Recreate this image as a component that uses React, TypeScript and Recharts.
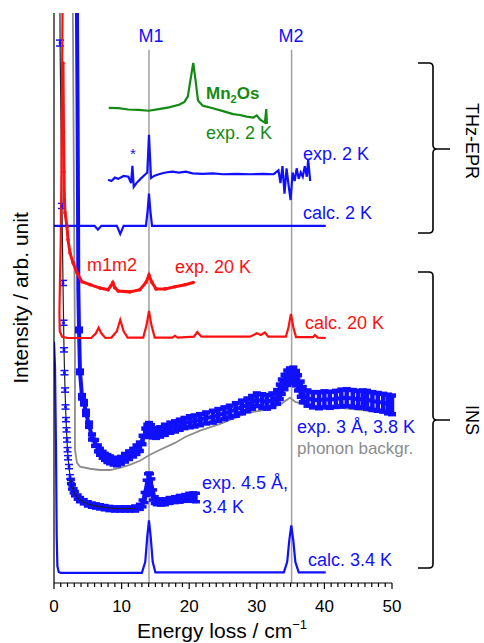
import React from "react";
import { LineChart, Line, XAxis, YAxis, ErrorBar, ReferenceLine } from "recharts";

// readings from the figure: [energy / cm-1, offset intensity (arb.), error]
const calc34K = [
  [0, 5.6], [0.15, 5.0], [0.3, 3.0], [0.4, 1.0], [0.5, 0.3], [0.7, 0.16], [1, 0.14],
  [13, 0.14], [13.5, 0.4], [13.8, 1.0], [14.05, 1.38], [14.3, 1.0], [14.6, 0.4], [15, 0.15],
  [24, 0.15], [34, 0.15], [34.5, 0.4], [34.8, 0.9], [35.1, 1.26], [35.4, 0.9], [35.7, 0.4],
  [36.2, 0.15], [40.2, 0.15],
];

const exp45Fit = [
  [0.85, 14.5], [0.9, 12.66], [1.05, 10.5], [1.18, 8.81], [1.33, 6.99], [1.48, 5.41],
  [1.63, 4.46], [1.78, 3.76], [1.92, 3.28], [2.07, 2.86], [2.22, 2.65], [2.37, 2.41],
  [2.66, 2.17], [3.1, 2.0], [3.85, 1.86], [5.0, 1.76], [6.8, 1.7], [9.0, 1.66], [12.0, 1.66],
];

const exp45Sparse = [
  [0.89, 12.66, 0.07], [1.18, 8.81, 0.06], [1.33, 6.99, 0.06], [1.41, 6.05, 0.06],
  [1.48, 5.41, 0.05], [1.55, 4.87, 0.05], [1.63, 4.46, 0.05], [1.7, 4.06, 0.05],
  [1.78, 3.76, 0.05], [1.85, 3.52, 0.05], [1.92, 3.28, 0.05], [2.0, 3.05, 0.05],
  [2.07, 2.86, 0.05], [2.22, 2.65, 0.05], [2.37, 2.41, 0.05],
];

const exp45 = [
  [2.5, 2.3, 0.05], [2.66, 2.17, 0.05], [2.9, 2.08, 0.05], [3.1, 2.01, 0.05], [3.5, 1.93, 0.05],
  [3.85, 1.87, 0.05], [4.4, 1.82, 0.05], [5.0, 1.77, 0.05], [5.6, 1.74, 0.05], [6.2, 1.72, 0.05],
  [6.8, 1.7, 0.05], [7.5, 1.68, 0.05], [8.2, 1.66, 0.05], [9.0, 1.65, 0.05], [9.8, 1.65, 0.05],
  [10.5, 1.65, 0.05], [11.2, 1.65, 0.05], [12.0, 1.66, 0.06], [12.7, 1.7, 0.06], [13.1, 1.78, 0.08],
  [13.4, 1.92, 0.12], [13.7, 2.15, 0.18], [13.9, 2.28, 0.2], [14.05, 2.3, 0.2], [14.2, 2.28, 0.2],
  [14.4, 2.18, 0.18], [14.65, 1.98, 0.12], [14.9, 1.86, 0.08], [15.2, 1.82, 0.07], [15.8, 1.81, 0.07],
  [16.4, 1.82, 0.07], [17.1, 1.85, 0.07], [17.9, 1.87, 0.07], [18.6, 1.89, 0.08], [19.4, 1.91, 0.08],
  [20.0, 1.93, 0.09], [20.6, 1.93, 0.1], [21.0, 1.92, 0.1],
];

const phononBg = [
  [2.75, 14.5], [2.96, 8.95], [3.1, 5.41], [3.1, 3.05], [3.4, 2.74], [3.85, 2.65], [5.33, 2.6],
  [6.8, 2.57], [8.28, 2.57], [9.76, 2.62], [11.2, 2.69], [12.7, 2.79], [14.2, 2.93], [15.7, 3.05],
  [17.9, 3.21], [19.4, 3.35], [21.6, 3.5], [24.6, 3.66], [28.6, 3.92], [31.2, 3.99], [33.4, 4.11],
  [34.9, 4.28], [35.7, 4.18], [37.4, 4.11], [39.3, 4.06], [42.3, 4.04], [45.3, 3.99], [47.2, 3.95],
  [50, 3.92],
];

const exp3A = [
  [3.35, 14.5, 0], [3.48, 11.3, 0], [3.55, 8.95, 0], [3.6, 6.83, 0], [3.7, 5.88, 0.03],
  [3.85, 4.89, 0.03], [4.14, 4.3, 0.04], [4.44, 4.16, 0.04], [4.73, 3.92, 0.05], [5.18, 3.64, 0.05],
  [5.62, 3.35, 0.06], [6.07, 3.21, 0.07], [6.5, 3.08, 0.07], [6.8, 3.0, 0.07], [7.2, 2.93, 0.07],
  [7.54, 2.88, 0.07], [7.9, 2.84, 0.08], [8.28, 2.81, 0.08], [8.8, 2.78, 0.08], [9.32, 2.76, 0.08],
  [9.9, 2.8, 0.08], [10.5, 2.86, 0.09], [11.1, 2.92, 0.09], [11.7, 2.98, 0.09], [12.2, 3.05, 0.1],
  [12.7, 3.12, 0.1], [13.1, 3.28, 0.1], [13.5, 3.45, 0.1], [13.8, 3.53, 0.11], [14.05, 3.57, 0.11],
  [14.35, 3.52, 0.11], [14.65, 3.45, 0.11], [15.1, 3.44, 0.11], [15.7, 3.47, 0.11], [16.4, 3.52, 0.12],
  [17.2, 3.57, 0.12], [17.9, 3.6, 0.12], [18.6, 3.64, 0.12], [19.3, 3.68, 0.12], [20.1, 3.71, 0.13],
  [20.8, 3.73, 0.13], [21.6, 3.76, 0.13], [22.5, 3.8, 0.13], [23.5, 3.83, 0.14], [24.3, 3.87, 0.14],
  [25.2, 3.91, 0.14], [26.0, 3.95, 0.14], [26.9, 4.0, 0.15], [27.8, 4.06, 0.15], [28.6, 4.11, 0.15],
  [29.3, 4.17, 0.15], [30.0, 4.23, 0.15], [30.8, 4.2, 0.16], [31.5, 4.18, 0.16], [32.3, 4.22, 0.16],
  [33.0, 4.3, 0.16], [33.4, 4.42, 0.17], [33.7, 4.54, 0.17], [34.1, 4.65, 0.17], [34.5, 4.75, 0.17],
  [34.9, 4.8, 0.17], [35.4, 4.82, 0.17], [35.8, 4.74, 0.17], [36.1, 4.63, 0.18], [36.5, 4.48, 0.18],
  [36.8, 4.35, 0.18], [37.5, 4.27, 0.18], [38.3, 4.23, 0.18], [39.2, 4.22, 0.19], [40.0, 4.24, 0.19],
  [40.8, 4.23, 0.19], [41.7, 4.25, 0.19], [42.5, 4.27, 0.2], [43.3, 4.28, 0.2], [44.2, 4.26, 0.2],
  [45.0, 4.24, 0.2], [45.7, 4.25, 0.2], [46.3, 4.23, 0.21], [47.1, 4.2, 0.21], [47.9, 4.18, 0.21],
  [48.7, 4.16, 0.21], [49.4, 4.13, 0.22], [50, 4.11, 0.22],
];

const calc20K = [
  [1.3, 14.5], [1.15, 10.5], [1.0, 8.0], [0.8, 6.3], [0.85, 5.85], [1.2, 5.72], [2.0, 5.69],
  [5.5, 5.69], [6.2, 5.8], [6.6, 5.93], [7.0, 5.8], [7.6, 5.69], [8.5, 5.7], [9.3, 5.85],
  [9.8, 6.12], [10.3, 5.85], [10.9, 5.7], [13.2, 5.7], [13.7, 6.0], [14.05, 6.33], [14.4, 6.0],
  [14.9, 5.7], [17.5, 5.7], [17.9, 5.74], [18.3, 5.7], [20.7, 5.72], [21.2, 5.83], [21.8, 5.72],
  [29.0, 5.72], [30.0, 5.8], [30.6, 5.76], [31.2, 5.82], [31.7, 5.72], [34.3, 5.72], [34.7, 5.95],
  [35.05, 6.26], [35.4, 5.95], [35.8, 5.71], [38.3, 5.71], [38.6, 5.76], [39.0, 5.7], [40.2, 5.69],
];

const exp20K = [
  [1.33, 12.19], [1.41, 10.56], [1.48, 9.61], [1.55, 8.95], [1.63, 8.65], [1.92, 8.32],
  [2.07, 8.01], [2.37, 7.7], [2.81, 7.47], [3.4, 7.23], [4.14, 7.02], [5.33, 6.95], [6.8, 6.87],
  [8.0, 6.83], [8.4, 6.92], [8.7, 7.0], [9.0, 6.88], [9.5, 6.8], [11.2, 6.78], [12.7, 6.83],
  [13.6, 7.0], [14.05, 7.18], [14.5, 7.0], [15.1, 6.85], [16.4, 6.85], [17.9, 6.9], [19.4, 6.95],
  [20.6, 7.0],
];

const calc2K = [
  [0, 8.34], [6.0, 8.34], [6.5, 8.25], [7.0, 8.34], [9.3, 8.34], [9.8, 8.15], [10.3, 8.34],
  [13.6, 8.34], [13.85, 8.7], [14.05, 9.1], [14.25, 8.7], [14.5, 8.34], [40.2, 8.34],
];

const exp2K = [
  [8.0, 9.43], [8.5, 9.4], [9.0, 9.48], [9.5, 9.45], [10.3, 9.52], [11.0, 9.5], [11.4, 9.35],
  [11.6, 9.76], [11.8, 9.26], [12.2, 9.35], [12.8, 9.45], [13.4, 9.54], [13.8, 9.6], [14.05, 10.49],
  [14.35, 9.47], [14.8, 9.52], [15.5, 9.56], [16.5, 9.6], [17.5, 9.62], [18.5, 9.6], [19.5, 9.62],
  [20.5, 9.58], [22, 9.57], [23.5, 9.58], [25, 9.56], [27, 9.57], [29, 9.56], [31, 9.57],
  [32.5, 9.56], [33.2, 9.65], [33.5, 9.35], [33.8, 9.75], [34.1, 9.1], [34.4, 9.7], [34.7, 9.3],
  [35.0, 8.95], [35.3, 9.6], [35.6, 9.4], [35.9, 9.7], [36.2, 9.45], [36.5, 9.6], [36.8, 9.5],
  [37.1, 9.75], [37.4, 9.5], [37.6, 9.9], [37.9, 9.4],
];

const mn2os2K = [
  [8.1, 11.13], [9.5, 11.12], [11, 11.09], [12.5, 11.08], [14, 11.06], [15.5, 11.1], [17, 11.14],
  [18.5, 11.2], [19.3, 11.27], [19.8, 11.4], [20.2, 11.8], [20.6, 12.19], [21.0, 11.7],
  [21.3, 11.3], [22, 11.18], [23.5, 11.12], [25, 11.05], [26.5, 10.98], [27.5, 10.96],
  [28.5, 10.92], [29.5, 10.9], [30.0, 10.95], [30.5, 10.85], [31.2, 10.78], [31.4, 11.1],
  [31.5, 10.75],
];

const modes = [
  { name: "M1", x: 14.05 },
  { name: "M2", x: 35.15 },
];

const xTicks = Array.from({ length: 51 }, (_, i) => i);
const yTicks = [0, 1, 2, 3, 4, 5, 6, 7, 8, 9, 10, 11, 12, 13];

const BLUE = "#1010ff";
const RED = "#ff1010";
const GREEN = "#138a13";
const GREY = "#8c8c8c";
const FONT = "'Liberation Sans', Arial, sans-serif";

const pts = (arr: number[][]) => arr.map(([x, y, e]) => ({ x, y, e: e ?? 0 }));

const XTick = (props: any) => {
  const { x, y, payload } = props;
  const major = payload.value % 10 === 0;
  return (
    <g>
      <line x1={x} x2={x} y1={y} y2={y + (major ? 6 : 4)} stroke="#000" strokeWidth={1.2} />
      {major && (
        <text x={x} y={y + 29} textAnchor="middle" fontSize={17} fill="#000" fontFamily={FONT}>
          {payload.value}
        </text>
      )}
    </g>
  );
};

function Bracket({ top, mid, bottom }: { top: number; mid: number; bottom: number }) {
  const d = `M418,${top} L429,${top} Q433,${top} 433,${top + 4} L433,${mid - 4} Q433,${mid} 437,${mid} L450,${mid}
    M437,${mid} Q433,${mid} 433,${mid + 4} L433,${bottom - 4} Q433,${bottom} 429,${bottom} L418,${bottom}`;
  return <path d={d} fill="none" stroke="#000" strokeWidth={1.6} />;
}

export default function App() {
  const W = 484;
  const H = 643;
  return (
    <div style={{ position: "relative", width: W, height: H, fontFamily: FONT }}>
      <style>{"body{margin:0}"}</style>
      <LineChart width={W} height={H} margin={{ top: 13, right: 92, bottom: 0, left: 0 }}>
        <XAxis
          type="number"
          dataKey="x"
          domain={[0, 50]}
          allowDataOverflow
          ticks={xTicks}
          interval={0}
          tick={<XTick />}
          tickLine={false}
          tickSize={0}
          tickMargin={0}
          height={60}
          axisLine={{ stroke: "#000", strokeWidth: 1.2 }}
        />
        <YAxis
          type="number"
          domain={[-0.1, 13.37]}
          allowDataOverflow
          ticks={yTicks}
          interval={0}
          tick={false}
          tickSize={8}
          width={54}
          tickLine={{ stroke: "#000", strokeWidth: 1.2 }}
          axisLine={{ stroke: "#000", strokeWidth: 1.2 }}
        />
        {modes.map((m) => (
          <ReferenceLine
            key={m.name}
            segment={[{ x: m.x, y: 12.5 }, { x: m.x, y: -0.1 }]}
            stroke="#a0a0a0"
            strokeWidth={1.5}
          />
        ))}
        <Line data={pts(calc34K)} dataKey="y" stroke={BLUE} strokeWidth={2.2} dot={false} isAnimationActive={false} />
        <Line data={pts(phononBg)} dataKey="y" stroke={GREY} strokeWidth={1.8} dot={false} isAnimationActive={false} />
        <Line data={pts(exp45)} dataKey="y" stroke={BLUE} strokeWidth={5} dot={false} isAnimationActive={false}>
          <ErrorBar dataKey="e" width={4} stroke={BLUE} strokeWidth={3.5} direction="y" />
        </Line>
        <Line data={pts(exp45Fit)} dataKey="y" stroke="#222" strokeWidth={1.2} dot={false} isAnimationActive={false} />
        <Line
          data={pts(exp45Sparse)}
          dataKey="y"
          stroke="none"
          dot={{ r: 1.5, fill: BLUE, stroke: "none" }}
          isAnimationActive={false}
        >
          <ErrorBar dataKey="e" width={4} stroke={BLUE} strokeWidth={1.5} direction="y" />
        </Line>
        <Line data={pts(exp3A)} dataKey="y" stroke={BLUE} strokeWidth={4} dot={false} isAnimationActive={false}>
          <ErrorBar dataKey="e" width={4} stroke={BLUE} strokeWidth={4.5} direction="y" />
        </Line>
        <Line data={pts(calc20K)} dataKey="y" stroke={RED} strokeWidth={2.2} dot={false} isAnimationActive={false} />
        <Line
          data={pts(exp20K)}
          dataKey="y"
          stroke={RED}
          strokeWidth={3}
          dot={{ r: 1.8, fill: RED, stroke: "none" }}
          isAnimationActive={false}
        />
        <Line data={pts(calc2K)} dataKey="y" stroke={BLUE} strokeWidth={2.2} dot={false} isAnimationActive={false} />
        <Line data={pts(exp2K)} dataKey="y" stroke={BLUE} strokeWidth={2.2} dot={false} isAnimationActive={false} />
        <Line data={pts(mn2os2K)} dataKey="y" stroke={GREEN} strokeWidth={2.2} dot={false} isAnimationActive={false} />
      </LineChart>

      <svg
        width={W}
        height={H}
        style={{ position: "absolute", left: 0, top: 0, pointerEvents: "none" }}
        fontFamily={FONT}
      >
        <g dominantBaseline="central">
          <text x={151} y={36} textAnchor="middle" fontSize={18} fill={BLUE}>M1</text>
          <text x={291} y={36} textAnchor="middle" fontSize={18} fill={BLUE}>M2</text>

          <text x={206} y={93} fontSize={17} fontWeight="bold" fill={GREEN}>
            Mn<tspan fontSize={11} dy={6}>2</tspan><tspan dy={-6}>Os</tspan>
          </text>
          <text x={206} y={133} fontSize={18} fill={GREEN}>exp. 2 K</text>
          <text x={133} y={153} textAnchor="middle" fontSize={15} fill={BLUE}>*</text>
          <text x={303} y={154} fontSize={18} fill={BLUE}>exp. 2 K</text>
          <text x={303} y={213} fontSize={18} fill={BLUE}>calc. 2 K</text>

          <text x={87} y={265} fontSize={18} fill={RED}>m1m2</text>
          <text x={175} y={267} fontSize={18} fill={RED}>exp. 20 K</text>
          <text x={305} y={323} fontSize={18} fill={RED}>calc. 20 K</text>

          <text x={297} y={427} fontSize={18} fill={BLUE}>exp. 3 Å, 3.8 K</text>
          <text x={297} y={448} fontSize={17} fill={GREY}>phonon backgr.</text>
          <text x={202} y={483} fontSize={18} fill={BLUE}>exp. 4.5 Å,</text>
          <text x={202} y={507} fontSize={18} fill={BLUE}>3.4 K</text>
          <text x={308} y={560} fontSize={18} fill={BLUE}>calc. 3.4 K</text>

          <text transform="translate(472,141) rotate(90)" textAnchor="middle" fontSize={18} fill="#000">THz-EPR</text>
          <text transform="translate(472,420) rotate(90)" textAnchor="middle" fontSize={18} fill="#000">INS</text>

          <text transform="translate(20,298) rotate(-90)" textAnchor="middle" fontSize={21} fill="#000">
            Intensity / arb. unit
          </text>
        </g>
        <text x={222} y={638} textAnchor="middle" fontSize={21} fill="#000">
          Energy loss / cm<tspan fontSize={13} dy={-9}>−1</tspan>
        </text>
        <Bracket top={63} mid={149} bottom={233} />
        <Bracket top={272} mid={420} bottom={568} />
      </svg>
    </div>
  );
}
